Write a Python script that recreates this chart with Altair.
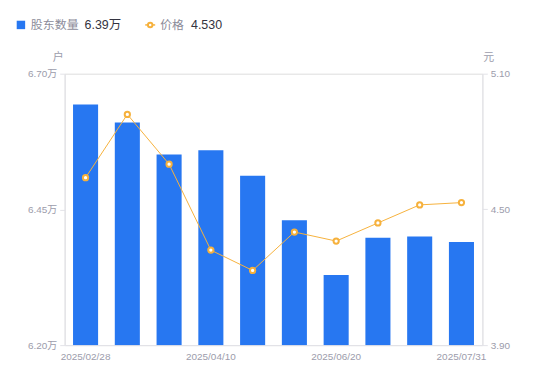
import altair as alt
import pandas as pd

dates = ["2025/02/28", "2025/03/10", "2025/03/31", "2025/04/10", "2025/04/30",
         "2025/05/30", "2025/06/20", "2025/06/30", "2025/07/10", "2025/07/31"]
holders = [6.643, 6.610, 6.551, 6.559, 6.512, 6.430, 6.329, 6.398, 6.400, 6.39]  # 万户
prices = [4.64, 4.92, 4.70, 4.32, 4.23, 4.40, 4.36, 4.44, 4.52, 4.53]
left_ticks = [6.20, 6.45, 6.70]
right_ticks = [3.90, 4.50, 5.10]
x_label_dates = ["2025/02/28", "2025/04/10", "2025/06/20", "2025/07/31"]

BLUE = "#2777f1"
ORANGE = "#f6b13c"
GREY = "#9c9cab"
FONT = "Liberation Sans, 'Noto Sans CJK SC', sans-serif"

df = pd.DataFrame({"date": dates, "holders": holders, "price": prices,
                   "base": [left_ticks[0]] * len(dates)})
one = pd.DataFrame({"k": [0]})

xenc = alt.X("date:O", sort=None,
             scale=alt.Scale(paddingInner=0.4, paddingOuter=0.2),
             axis=alt.Axis(values=x_label_dates, title=None, labelAngle=0,
                           ticks=False, labelPadding=6, labelColor=GREY,
                           labelFontSize=10, domainColor="#e3e3e8",
                           labelFont=FONT, labelOverlap=False))

bars = alt.Chart(df).mark_bar(color=BLUE, clip=True).encode(
    x=xenc,
    y=alt.Y("holders:Q",
            scale=alt.Scale(domain=[left_ticks[0], left_ticks[-1]], zero=False, nice=False),
            axis=alt.Axis(values=left_ticks, labelExpr="format(datum.value, '.2f') + '万'",
                          title="户", titleAngle=0, titleX=-7, titleY=-16,
                          titleAlign="center", titleBaseline="middle",
                          titleColor=GREY, titleFontWeight="normal", titleFontSize=11,
                          titleFont=FONT,
                          labelColor=GREY, labelFontSize=10, labelFont=FONT,
                          tickSize=5, tickColor="#e3e3e8", domainColor="#e3e3e8",
                          labelPadding=3, grid=False)),
    y2="base:Q",
)

line = alt.Chart(df).mark_line(color=ORANGE, strokeWidth=1).encode(
    x=alt.X("date:O", sort=None),
    y=alt.Y("price:Q",
            scale=alt.Scale(domain=[right_ticks[0], right_ticks[-1]], zero=False, nice=False),
            axis=alt.Axis(orient="right", values=right_ticks, format=".2f",
                          title="元", titleAngle=0, titleX=6, titleY=-16,
                          titleAlign="center", titleBaseline="middle",
                          titleColor=GREY, titleFontWeight="normal", titleFontSize=11,
                          titleFont=FONT,
                          labelColor=GREY, labelFontSize=10, labelFont=FONT,
                          tickSize=5, tickColor="#e3e3e8", domainColor="#e3e3e8",
                          labelPadding=3, grid=False)),
)
pts = alt.Chart(df).mark_point(color=ORANGE, filled=True, fill="white",
                               stroke=ORANGE, strokeWidth=2, size=28, opacity=1).encode(
    x=alt.X("date:O", sort=None),
    y=alt.Y("price:Q"),
)
price_layer = alt.layer(line, pts)

# legend
LY = -49
leg_sq = alt.Chart(one).mark_square(color=BLUE, size=72, opacity=1).encode(
    x=alt.value(-44), y=alt.value(LY))
leg_t1 = alt.Chart(one).mark_text(align="left", baseline="middle", fontSize=12,
                                  color="#8c8c9a", font=FONT).encode(
    x=alt.value(-34), y=alt.value(LY), text=alt.value("股东数量"))
leg_v1 = alt.Chart(one).mark_text(align="left", baseline="middle", fontSize=12.5,
                                  color="#333340", font=FONT).encode(
    x=alt.value(20), y=alt.value(LY), text=alt.value(f"{holders[-1]:.2f}万"))
leg_ln = alt.Chart(one).mark_rule(color=ORANGE, strokeWidth=1.5).encode(
    x=alt.value(81), x2=alt.value(91), y=alt.value(LY))
leg_pt = alt.Chart(one).mark_point(filled=True, fill="white", stroke=ORANGE,
                                   strokeWidth=2, size=20, opacity=1).encode(
    x=alt.value(86), y=alt.value(LY))
leg_t2 = alt.Chart(one).mark_text(align="left", baseline="middle", fontSize=12,
                                  color="#8c8c9a", font=FONT).encode(
    x=alt.value(96), y=alt.value(LY), text=alt.value("价格"))
leg_v2 = alt.Chart(one).mark_text(align="left", baseline="middle", fontSize=12.5,
                                  color="#333340", font=FONT).encode(
    x=alt.value(127), y=alt.value(LY), text=alt.value(f"{prices[-1]:.3f}"))

chart = alt.layer(bars, price_layer, leg_sq, leg_t1, leg_v1, leg_ln, leg_pt, leg_t2, leg_v2
).resolve_scale(y="independent").properties(
    width=420, height=273,
    autosize=alt.AutoSizeParams(type="none"),
    padding={"left": 57, "top": 65, "right": 60, "bottom": 30},
).configure_view(stroke=None).configure(background="white")

chart.save("out.html", embed_options={"renderer": "svg", "actions": False})
